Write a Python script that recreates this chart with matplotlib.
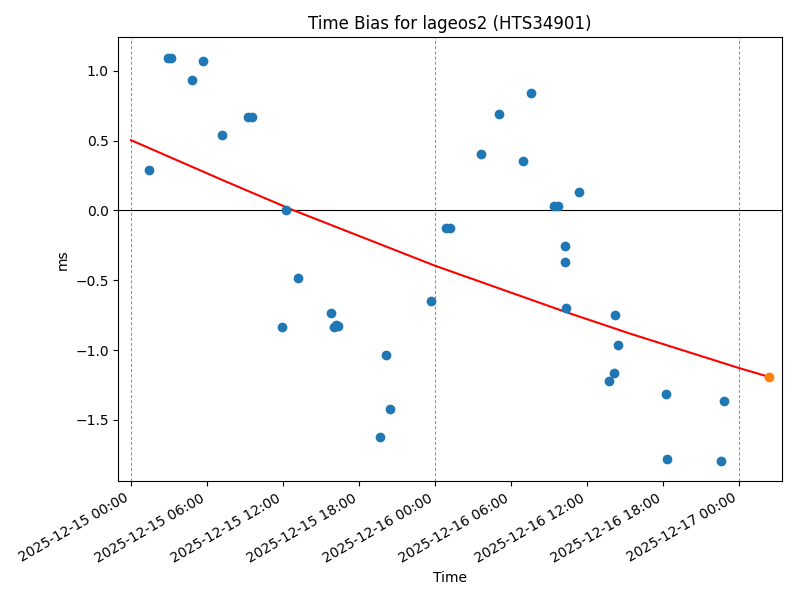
import numpy as np
import pandas as pd
import matplotlib
matplotlib.use('Agg')
import matplotlib.pyplot as plt
import matplotlib.dates as mdates

# observed time bias (ms)
obs_times = ['2025-12-15 01:28', '2025-12-15 02:58', '2025-12-15 03:10', '2025-12-15 04:52',
             '2025-12-15 05:44', '2025-12-15 07:14', '2025-12-15 09:13', '2025-12-15 09:33',
             '2025-12-15 12:17', '2025-12-15 11:58', '2025-12-15 13:14', '2025-12-15 15:50',
             '2025-12-15 16:04', '2025-12-15 16:11', '2025-12-15 16:20', '2025-12-15 19:42',
             '2025-12-15 20:11', '2025-12-15 20:29', '2025-12-15 23:44', '2025-12-16 00:53',
             '2025-12-16 01:14', '2025-12-16 03:41', '2025-12-16 05:06', '2025-12-16 06:58',
             '2025-12-16 07:36', '2025-12-16 09:23', '2025-12-16 09:44', '2025-12-16 10:19',
             '2025-12-16 10:19', '2025-12-16 10:23', '2025-12-16 11:22', '2025-12-16 13:47',
             '2025-12-16 14:11', '2025-12-16 14:16', '2025-12-16 14:29', '2025-12-16 18:16',
             '2025-12-16 18:20', '2025-12-16 22:36', '2025-12-16 22:50']
obs_bias = [0.287, 1.089, 1.089, 0.938,
            1.067, 0.544, 0.666, 0.666,
            0.0, -0.836, -0.487, -0.731,
            -0.838, -0.817, -0.824, -1.619,
            -1.037, -1.425, -0.645, -0.129,
            -0.129, 0.401, 0.688, 0.351,
            0.840, 0.029, 0.029, -0.256,
            -0.370, -0.695, 0.131, -1.218,
            -1.165, -0.752, -0.967, -1.316,
            -1.782, -1.795, -1.368]

# fitted trend (red)
fit_times = ['2025-12-15 00:00', '2025-12-15 07:26', '2025-12-15 12:43', '2025-12-15 23:58',
             '2025-12-16 10:22', '2025-12-16 15:25', '2025-12-16 23:58', '2025-12-17 02:24']
fit_bias = [0.504, 0.210, 0.006, -0.394, -0.728, -0.882, -1.127, -1.192]

# predicted point (orange)
pred_time = ['2025-12-17 02:24']
pred_bias = [-1.195]

day_lines = ['2025-12-15 00:00', '2025-12-16 00:00', '2025-12-17 00:00']

obs_t = pd.to_datetime(obs_times)
fit_t = pd.to_datetime(fit_times)
pred_t = pd.to_datetime(pred_time)

fig, ax = plt.subplots(figsize=(8, 6), dpi=100)

# day boundaries
for d in pd.to_datetime(day_lines):
    ax.axvline(d, color='#5a9fd4', linestyle=(0, (3, 2)), linewidth=0.75)
ax.axhline(0, color='black', linewidth=0.8)

ax.scatter(obs_t, obs_bias, color='C0', zorder=3)
ax.plot(fit_t, fit_bias, color='red', zorder=2)
ax.scatter(pred_t, pred_bias, color='C1', zorder=3)

ax.set_xlim(pd.Timestamp('2025-12-14 23:01'), pd.Timestamp('2025-12-17 03:23'))
ax.set_ylim(-1.939, 1.241)
ax.xaxis.set_major_locator(mdates.HourLocator(byhour=[0, 6, 12, 18]))
ax.xaxis.set_major_formatter(mdates.DateFormatter('%Y-%m-%d %H:%M'))

ax.set_title('Time Bias for lageos2 (HTS34901)')
ax.set_xlabel('Time')
ax.set_ylabel('ms')
fig.autofmt_xdate()

fig.subplots_adjust(left=0.148, right=0.977, top=0.938, bottom=0.198)
fig.savefig('out.png', dpi=100)
